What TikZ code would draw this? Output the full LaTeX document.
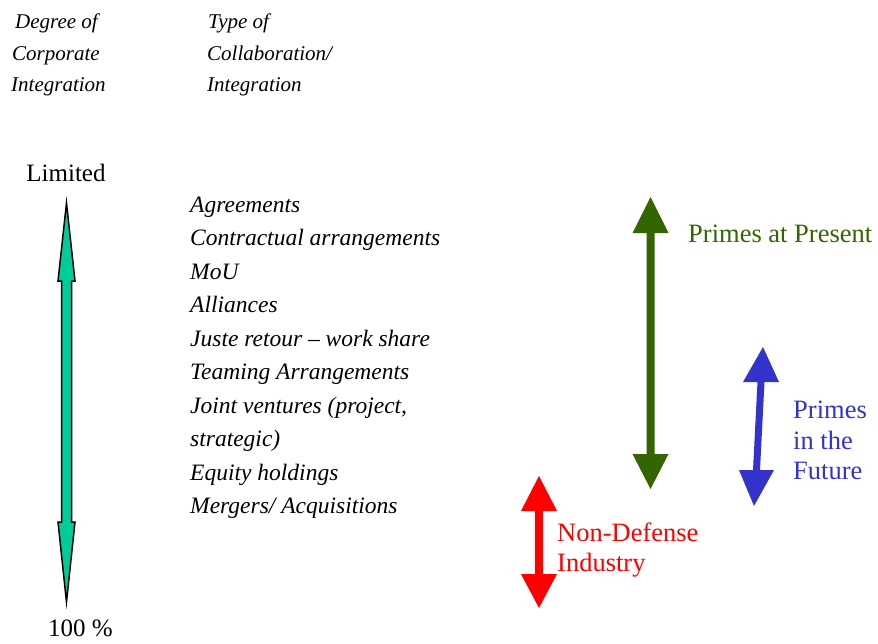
\documentclass[tikz,border=0pt]{standalone}
\usepackage{fontspec}
\setmainfont{Liberation Serif}[ItalicFont={Liberation Serif Italic}]
\definecolor{tealA}{HTML}{00CC99}
\definecolor{greenA}{HTML}{336600}
\definecolor{blueA}{HTML}{3333CC}
\definecolor{redA}{HTML}{FF0000}
\begin{document}
\begin{tikzpicture}[x=1pt,y=-1pt,
  hdr/.style={font=\fontsize{21}{25}\selectfont\itshape, anchor=base west, inner sep=0pt},
  item/.style={font=\fontsize{23.5}{28}\selectfont\itshape, anchor=base west, inner sep=0pt},
  endlbl/.style={font=\fontsize{25}{30}\selectfont, inner sep=0pt},
  rlbl/.style={font=\fontsize{26.5}{31}\selectfont, anchor=base west, inner sep=0pt}]
\useasboundingbox (0,0) rectangle (878,643);

% headers
\node[hdr] (h1) at (15,28) {Degree of};
\node[hdr] (h2) at (12,60) {Corporate};
\node[hdr] (h3) at (11,91) {Integration};
\node[hdr] (t1) at (208,28) {Type of};
\node[hdr] (t2) at (207,60) {Collaboration/};
\node[hdr] (t3) at (207,91) {Integration};

% scale ends
\node[endlbl, anchor=base] (lim) at (66,181) {Limited};
\node[endlbl, anchor=base west] (full) at (48,636) {100 \%};

% left double arrow
\filldraw[fill=tealA, draw=black, line width=1.5pt, line join=miter]
  (66.5,203) -- (75,281) -- (71.5,281) -- (71.5,522) -- (75,522) -- (66.5,602)
  -- (58,522) -- (61.5,522) -- (61.5,281) -- (58,281) -- cycle;

% list of collaboration types
\foreach \t [count=\i] in {Agreements, Contractual arrangements, MoU, Alliances,
  Juste retour -- work share, Teaming Arrangements, {Joint ventures (project,},
  strategic), Equity holdings, Mergers/ Acquisitions}
  \node[item] (l\i) at (190,{212+33.5*(\i-1)}) {\t};

% Primes at present (green)
\fill[greenA] (650.5,197) -- (668.5,233) -- (654.5,233) -- (654.5,454) -- (668.5,454)
  -- (650.5,489) -- (632.5,454) -- (646.5,454) -- (646.5,233) -- (632.5,233) -- cycle;
\node[rlbl, text=greenA] (pp) at (688,242) {Primes at Present};

% Primes in the future (blue)
\fill[blueA] (763,347) -- (779,382) -- (764.5,382) -- (760,470) -- (774,470)
  -- (754,506) -- (739,470) -- (753,470) -- (757.5,382) -- (743,382) -- cycle;
\node[rlbl, text=blueA] (pf1) at (793,418) {Primes};
\node[rlbl, text=blueA] (pf2) at (793,449) {in the};
\node[rlbl, text=blueA] (pf3) at (793,479) {Future};

% Non-defense industry (red)
\fill[redA] (539,476) -- (557,511) -- (543,511) -- (543,574) -- (557,574)
  -- (539,608) -- (521,574) -- (535,574) -- (535,511) -- (521,511) -- cycle;
\node[rlbl, text=redA] (nd1) at (557,541) {Non-Defense};
\node[rlbl, text=redA] (nd2) at (557,571) {Industry};
\end{tikzpicture}
\end{document}
